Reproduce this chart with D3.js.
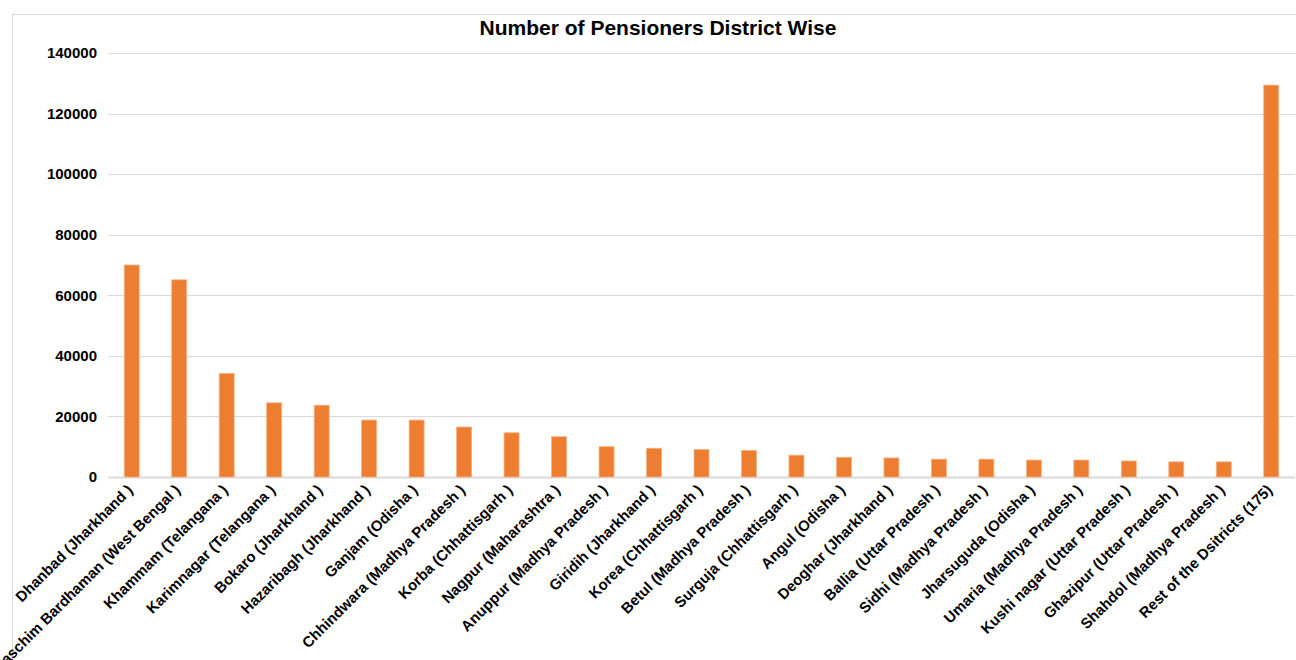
<!DOCTYPE html>
<html>
<head>
<meta charset="utf-8">
<script src="https://cdn.jsdelivr.net/npm/d3@7/dist/d3.min.js"></script>
<style>
  html, body { margin: 0; padding: 0; background: #fff; }
  svg { display: block; font-family: "Liberation Sans", Arial, Helvetica, sans-serif; }
</style>
</head>
<body>
<svg id="chart" width="1296" height="660"></svg>
<script>
// District-wise pensioner counts
const districts = [
  "Dhanbad (Jharkhand )", "Paschim Bardhaman (West Bengal )", "Khammam (Telangana )",
  "Karimnagar (Telangana )", "Bokaro (Jharkhand )", "Hazaribagh (Jharkhand )",
  "Ganjam (Odisha )", "Chhindwara (Madhya Pradesh )", "Korba (Chhattisgarh )",
  "Nagpur (Maharashtra )", "Anuppur (Madhya Pradesh )", "Giridih (Jharkhand )",
  "Korea (Chhattisgarh )", "Betul (Madhya Pradesh )", "Surguja (Chhattisgarh )",
  "Angul (Odisha )", "Deoghar (Jharkhand )", "Ballia (Uttar Pradesh )",
  "Sidhi (Madhya Pradesh )", "Jharsuguda (Odisha )", "Umaria (Madhya Pradesh )",
  "Kushi nagar (Uttar Pradesh )", "Ghazipur (Uttar Pradesh )", "Shahdol (Madhya Pradesh )",
  "Rest of the Dsitricts (175)"
];
const pensioners = [
  70000, 65100, 34200, 24500, 23700, 18800, 18800, 16500, 14600, 13300,
  10000, 9500, 9100, 8800, 7200, 6500, 6300, 5900, 5900, 5600,
  5600, 5300, 5000, 5000, 129400
];
const yTicks = [0, 20000, 40000, 60000, 80000, 100000, 120000, 140000];
const chartTitle = "Number of Pensioners District Wise";

const svg = d3.select("#chart");
const W = 1296;

// outer chart frame
svg.append("rect")
  .attr("x", 12.5).attr("y", 14.5)
  .attr("width", W).attr("height", 700)
  .attr("fill", "none").attr("stroke", "#d9d9d9").attr("stroke-width", 1);

const plot = { left: 108, right: 1295, top: 53, bottom: 477 };

const x = d3.scaleBand().domain(districts).range([plot.left, plot.right]).padding(0);
const y = d3.scaleLinear().domain([0, 140000]).range([plot.bottom, plot.top]);

// horizontal gridlines
svg.append("g")
  .selectAll("line")
  .data(yTicks)
  .join("line")
  .attr("x1", plot.left).attr("x2", plot.right)
  .attr("y1", d => Math.round(y(d)) + 0.5).attr("y2", d => Math.round(y(d)) + 0.5)
  .attr("stroke", "#d9d9d9")
  .attr("stroke-width", d => d === 0 ? 2 : 1);

// y-axis tick labels
const yAxis = d3.axisLeft(y).tickValues(yTicks).tickSize(0).tickPadding(0).tickFormat(d3.format("d"));
const yg = svg.append("g").attr("transform", `translate(${plot.left - 11},0)`).call(yAxis);
yg.select(".domain").remove();
yg.selectAll("text")
  .attr("font-size", 15).attr("font-weight", "bold").attr("fill", "#000")
  .attr("font-family", "'Liberation Sans', Arial, sans-serif");

// bars
const barW = 15;
svg.append("g")
  .selectAll("rect")
  .data(districts.map((d, i) => ({ name: d, value: pensioners[i] })))
  .join("rect")
  .attr("x", d => x(d.name) + x.bandwidth() / 2 - barW / 2)
  .attr("width", barW)
  .attr("y", d => y(d.value))
  .attr("height", d => y(0) - y(d.value))
  .attr("fill", "#ED7D31")
  .attr("stroke", "#f5b486")
  .attr("stroke-width", 0.8);

// rotated category labels
const xAxis = d3.axisBottom(x).tickSize(0).tickPadding(0);
const xg = svg.append("g").attr("transform", `translate(0,${plot.bottom})`).call(xAxis);
xg.select(".domain").remove();
xg.selectAll("text")
  .attr("font-size", 15).attr("font-weight", "bold").attr("fill", "#000")
  .attr("font-family", "'Liberation Sans', Arial, sans-serif")
  .attr("text-anchor", "end")
  .attr("dy", 0)
  .attr("transform", "translate(2,14) rotate(-45)");

// title
svg.append("text")
  .attr("x", 658).attr("y", 35)
  .attr("text-anchor", "middle")
  .attr("font-size", 21).attr("font-weight", "bold").attr("fill", "#000")
  .text(chartTitle);
</script>
</body>
</html>
